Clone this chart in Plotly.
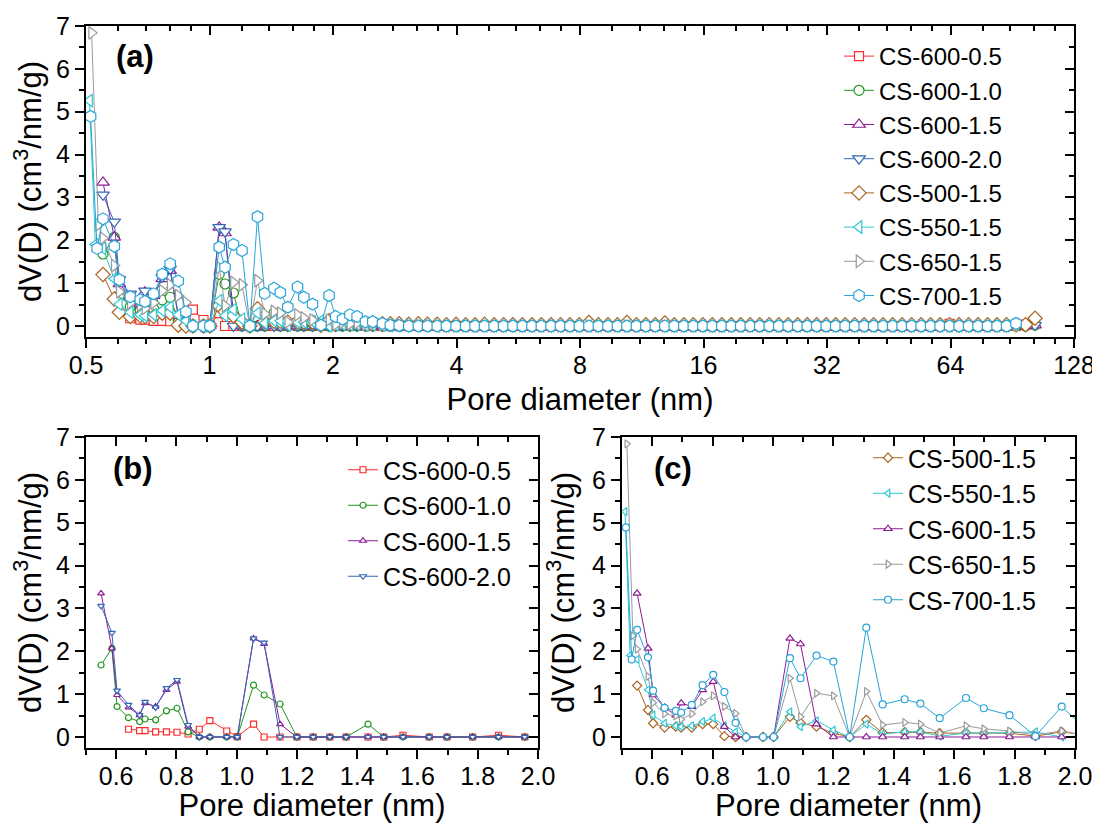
import plotly.graph_objects as go

# pore width grid (nm) shared by all samples from 0.55 nm on
GRID = [0.55, 0.586, 0.603, 0.641, 0.678, 0.696, 0.731, 0.767, 0.802, 0.839,
        0.876, 0.911, 0.967, 1.002, 1.056, 1.091, 1.144, 1.2, 1.254, 1.309,
        1.363, 1.436, 1.488, 1.552, 1.639, 1.698, 1.783, 1.869, 1.956, 2.03,
        2.11, 2.2, 2.29, 2.4, 2.5, 2.64, 2.76]
TAIL = [2.90, 3.06, 3.23, 3.40, 3.59, 3.78, 3.99, 4.21, 4.44, 4.68,
        4.94, 5.21, 5.49, 5.79, 6.11, 6.44, 6.80, 7.17, 7.56, 7.97,
        8.41, 8.87, 9.36, 9.87, 10.41, 10.98, 11.58, 12.21, 12.88, 13.58,
        14.33, 15.11, 15.94, 16.81, 17.73, 18.70, 19.72, 20.80, 21.94, 23.14,
        24.41, 25.74, 27.15, 28.64, 30.20, 31.86, 33.60, 35.44, 37.38, 39.42,
        41.58, 43.85, 46.25, 48.78, 51.45, 54.27, 57.24, 60.37, 63.67, 67.16,
        70.83, 74.71, 78.80, 83.11, 87.66, 92.45, 97.51, 102.85]

# first points below 0.55 nm differ per sample
HEAD_550 = [0.51, 0.527]
HEAD_650 = [0.516, 0.536]
HEAD_700 = [0.513, 0.532]

# dV(D) values, cm3/nm/g
V_600_05 = [0.18, 0.15, 0.15, 0.12, 0.12, 0.11, 0.07, 0.18, 0.38, 0.14,
            0.01, 0.30, 0, 0, 0, 0, 0, 0, 0, 0,
            0.04, 0, 0, 0, 0.04, 0, 0, 0, 0, 0, 0, 0, 0, 0,
            0, 0, 0, 0, 0, 0, 0, 0, 0, 0, 0, 0, 0, 0, 0, 0,
            0, 0, 0, 0, 0, 0, 0, 0, 0, 0, 0, 0, 0, 0, 0, 0,
            0, 0, 0, 0, 0, 0, 0, 0, 0, 0, 0, 0, 0, 0, 0, 0,
            0, 0, 0, 0, 0, 0, 0, 0, 0, 0, 0.05, 0, 0, 0, 0, 0,
            0, 0, 0.03]
V_600_10 = [1.68, 2.07, 0.71, 0.45, 0.36, 0.42, 0.40, 0.61, 0.67, 0.12,
            0, 0, 0, 0, 1.21, 0.98, 0.77, 0, 0, 0,
            0, 0.30, 0, 0, 0, 0, 0, 0, 0, 0, 0, 0, 0, 0, 0, 0, 0,
            0, 0, 0, 0, 0, 0, 0, 0, 0, 0, 0, 0, 0, 0, 0, 0,
            0, 0, 0, 0, 0, 0, 0, 0, 0, 0, 0, 0, 0, 0, 0, 0,
            0, 0, 0, 0, 0, 0, 0, 0, 0, 0, 0, 0, 0, 0, 0, 0,
            0, 0, 0, 0, 0, 0, 0, 0, 0, 0, 0, 0, 0, 0, 0, 0,
            0, 0, 0, 0.02]
V_600_15 = [3.35, 2.07, 0.98, 0.69, 0.51, 0.79, 0.71, 1.10, 1.29, 0.24,
            0, 0, 0, 0, 2.30, 2.17, 0.30, 0, 0, 0,
            0, 0, 0, 0, 0, 0, 0, 0, 0, 0, 0, 0, 0, 0, 0, 0, 0,
            0, 0, 0, 0, 0, 0, 0, 0, 0, 0, 0, 0, 0, 0, 0, 0,
            0, 0, 0, 0, 0, 0, 0, 0, 0, 0, 0, 0, 0, 0, 0, 0,
            0, 0, 0, 0, 0, 0, 0, 0, 0, 0, 0, 0, 0, 0, 0, 0,
            0, 0, 0, 0, 0, 0, 0, 0, 0, 0, 0, 0, 0, 0, 0, 0,
            0, 0, 0, 0.02]
V_600_20 = [3.06, 2.43, 1.08, 0.75, 0.51, 0.82, 0.69, 1.14, 1.33, 0.28,
            0, 0, 0, 0, 2.30, 2.20, 0, 0, 0, 0,
            0, 0, 0, 0, 0, 0, 0, 0, 0, 0, 0, 0, 0, 0, 0, 0, 0,
            0, 0, 0, 0, 0, 0, 0, 0, 0, 0, 0, 0, 0, 0, 0, 0,
            0, 0, 0, 0, 0, 0, 0, 0, 0, 0, 0, 0, 0, 0, 0, 0,
            0, 0, 0, 0, 0, 0, 0, 0, 0, 0, 0, 0, 0, 0, 0, 0,
            0, 0, 0, 0, 0, 0, 0, 0, 0, 0, 0, 0, 0, 0, 0, 0,
            0, 0, 0, 0.02]
V_500_15 = [1.20, 0.63, 0.32, 0.22, 0.24, 0.22, 0.22, 0.30, 0.30, 0.02,
            0, 0, 0, 0, 0.47, 0.33, 0.24, 0.09, 0, 0.40,
            0.10, 0.11, 0.11, 0.09, 0.10, 0.09, 0.09, 0.02, 0.12, 0.05,
            0.08, 0.06, 0.08, 0.05, 0.06, 0.05, 0.05,
            0.05, 0.04, 0.05, 0.04, 0.04, 0.03, 0.04, 0.03, 0.03, 0.04,
            0.03, 0.03, 0.03, 0.03, 0.03, 0.03, 0.03, 0.03, 0.03, 0.03,
            0.08, 0.03, 0.03, 0.03, 0.08, 0.03, 0.03, 0.03, 0.07, 0.03,
            0.03, 0.03, 0.03, 0.03, 0.03, 0.03, 0.03, 0.03, 0.03, 0.03,
            0.03, 0.03, 0.03, 0.03, 0.03, 0.03, 0.03, 0.03, 0.03, 0.03,
            0.03, 0.03, 0.03, 0.03, 0.03, 0.03, 0.03, 0.03, 0.03, 0.03,
            0.03, 0.03, 0.03, 0.03, 0.03, 0.03, 0.03, 0.18]
V_550_15 = [5.26, 1.90,
            1.81, 1.10, 0.51, 0.32, 0.26, 0.24, 0.26, 0.36, 0.44, 0.26,
            0.12, 0, 0, 0, 0.59, 0.24, 0.38, 0.16, 0, 0.30,
            0.07, 0.12, 0.12, 0.02, 0.09, 0.09, 0.10, 0.12, 0, 0.03,
            0.04, 0.03, 0.04, 0.02, 0.03, 0.02, 0.01,
            0.01, 0.01, 0.01, 0.01, 0, 0, 0, 0, 0, 0,
            0, 0, 0, 0, 0, 0, 0, 0, 0, 0, 0, 0, 0, 0, 0, 0,
            0, 0, 0, 0, 0, 0, 0, 0, 0, 0, 0, 0, 0, 0, 0, 0,
            0, 0, 0, 0, 0, 0, 0, 0, 0, 0, 0, 0, 0, 0, 0, 0,
            0, 0, 0, 0, 0, 0, 0, 0.04]
V_650_15 = [6.84, 2.36,
            2.05, 1.41, 0.80, 0.54, 0.49, 0.41, 0.54, 0.82, 0.96, 0.71,
            0.55, 0, 0, 0, 1.37, 0.47, 1.02, 0.96, 0, 1.06,
            0.28, 0.34, 0.30, 0.09, 0.26, 0.19, 0.14, 0.05, 0.14, 0.04,
            0.08, 0.05, 0.07, 0.04, 0.05, 0.03, 0.02,
            0.02, 0.02, 0.02, 0.02, 0.02, 0, 0, 0, 0, 0,
            0, 0, 0, 0, 0, 0, 0, 0, 0, 0, 0, 0, 0, 0, 0, 0,
            0, 0, 0, 0, 0, 0, 0, 0, 0, 0, 0, 0, 0, 0, 0, 0,
            0, 0, 0, 0, 0, 0, 0, 0, 0, 0, 0, 0, 0, 0, 0, 0,
            0, 0, 0, 0, 0, 0, 0, 0.03]
V_700_15 = [4.89, 1.81,
            2.50, 1.86, 1.08, 0.68, 0.61, 0.57, 0.75, 1.21, 1.45, 1.05,
            0.33, 0, 0, 0, 1.84, 1.37, 1.90, 1.76, 0, 2.55,
            0.76, 0.88, 0.78, 0.44, 0.91, 0.67, 0.51, 0.02, 0.71, 0.22,
            0.16, 0.26, 0.22, 0.10, 0.10, 0.06, 0.02,
            0.01, 0, 0, 0, 0, 0, 0, 0, 0, 0,
            0, 0, 0, 0, 0, 0, 0, 0, 0, 0, 0, 0, 0, 0, 0, 0,
            0, 0, 0, 0, 0, 0, 0, 0, 0, 0, 0, 0, 0, 0, 0, 0,
            0, 0, 0, 0, 0, 0, 0, 0, 0, 0, 0, 0, 0, 0, 0, 0,
            0, 0, 0, 0, 0, 0, 0, 0.06]

X_600_05 = GRID[3:] + TAIL
X_STD = GRID + TAIL

SERIES = {
    'CS-600-0.5': (X_600_05, V_600_05, '#FF2A2A', 'square'),
    'CS-600-1.0': (X_STD, V_600_10, '#1E961E', 'circle'),
    'CS-600-1.5': (X_STD, V_600_15, '#8E1A96', 'triangle-up'),
    'CS-600-2.0': (X_STD, V_600_20, '#3467B5', 'triangle-down'),
    'CS-500-1.5': (X_STD, V_500_15, '#A9641F', 'diamond'),
    'CS-550-1.5': (HEAD_550 + X_STD, V_550_15, '#2EC8D6', 'triangle-left'),
    'CS-650-1.5': (HEAD_650 + X_STD, V_650_15, '#9A9A9A', 'triangle-right'),
    'CS-700-1.5': (HEAD_700 + X_STD, V_700_15, '#27A4D8', 'hexagon'),
}
PANEL_B = ['CS-600-0.5', 'CS-600-1.0', 'CS-600-1.5', 'CS-600-2.0']
PANEL_C = ['CS-500-1.5', 'CS-550-1.5', 'CS-600-1.5', 'CS-650-1.5', 'CS-700-1.5']

BIG_SIZE = {'square': 9, 'circle': 10, 'triangle-up': 11, 'triangle-down': 11,
            'diamond': 11, 'triangle-left': 11, 'triangle-right': 11, 'hexagon': 12}

FONT = "Liberation Sans, Arial, sans-serif"
# the page body has an 8 px margin, so the figure is a bit smaller than the window
OFF = 8
W, H = 1100 - OFF, 823 - OFF

fig = go.Figure()


def add(name, xa, ya, legend, size, symbol=None):
    x, y, c, sym = SERIES[name]
    fig.add_trace(go.Scatter(
        x=x, y=y, name=name, mode='lines+markers',
        xaxis=xa, yaxis=ya, legend=legend,
        line=dict(color=c, width=1),
        marker=dict(symbol=symbol or sym, size=size, color='white',
                    line=dict(color=c, width=1.2)),
        cliponaxis=True,
    ))


for n in SERIES:
    add(n, 'x', 'y', 'legend', BIG_SIZE[SERIES[n][3]])
for n in PANEL_B:
    add(n, 'x2', 'y2', 'legend2', 6)
for n in PANEL_C:
    sym = 'circle' if n == 'CS-700-1.5' else None
    add(n, 'x3', 'y3', 'legend3', 7, sym)


def px_x(p):
    return (p - OFF) / W


def px_y(p):
    return 1 - (p - OFF) / H


dom_a_x = [px_x(86), px_x(1074)]
dom_a_y = [px_y(337), px_y(26)]
dom_b_x = [px_x(86), px_x(538)]
dom_c_x = [px_x(622), px_x(1075)]
dom_bc_y = [px_y(748), px_y(437)]

base = dict(showgrid=False, zeroline=False, showline=True, linecolor='black',
            linewidth=2, tickcolor='black', tickwidth=1.5, ticklen=9,
            automargin=False,
            tickfont=dict(size=25, color='black', family=FONT))

YR = [-0.257, 7]
log_major = [0.5, 1, 2, 4, 8, 16, 32, 64, 128]
log_minor = [0.6, 0.7, 0.8, 0.9, 1.2, 1.4, 1.6, 1.8, 2.4, 2.8, 3.2, 3.6,
             4.8, 5.6, 6.4, 7.2, 9.6, 11.2, 12.8, 14.4, 19.2, 22.4, 25.6, 28.8,
             38.4, 44.8, 51.2, 57.6, 76.8, 89.6, 102.4, 115.2]
XLOG_RANGE = [-0.30103, 2.10721]


def ylin(domain, anchor, side='left', inside=False, **kw):
    d = dict(base, domain=domain, anchor=anchor, range=YR, dtick=1, tick0=0,
             side=side, ticks='inside' if inside else 'outside',
             minor=dict(dtick=0.5, ticklen=5, ticks='inside' if inside else 'outside',
                        tickcolor='black', tickwidth=1.5, showgrid=False))
    d.update(kw)
    return d


def xlin(domain, anchor, side='bottom', inside=False, **kw):
    d = dict(base, domain=domain, anchor=anchor, range=[0.5, 2.0], dtick=0.2,
             tick0=0.4, tickformat='.1f', side=side, ticklabelstandoff=-4,
             ticks='inside' if inside else 'outside',
             minor=dict(dtick=0.1, tick0=0.5, ticklen=5,
                        ticks='inside' if inside else 'outside',
                        tickcolor='black', tickwidth=1.5, showgrid=False))
    d.update(kw)
    return d


def xlog(side='bottom', inside=False, **kw):
    d = dict(base, domain=dom_a_x, anchor='y', type='log', range=XLOG_RANGE,
             tickvals=log_major, ticktext=[str(v) for v in log_major],
             side=side, ticklabelstandoff=-4,
             ticks='inside' if inside else 'outside',
             minor=dict(tickvals=log_minor, ticklen=5,
                        ticks='inside' if inside else 'outside',
                        tickcolor='black', tickwidth=1.5, showgrid=False))
    d.update(kw)
    return d


ytitle = dict(text='dV(D) (cm<sup>3</sup>/nm/g)', font=dict(size=31, family=FONT, color='black'),
              standoff=8)
xtitle = dict(text='Pore diameter (nm)', font=dict(size=31, family=FONT, color='black'),
              standoff=10)

fig.update_layout(
    xaxis=xlog(title=xtitle),
    yaxis=ylin(dom_a_y, 'x', title=ytitle),
    xaxis4=xlog(side='top', inside=True, overlaying='x', showticklabels=False),
    yaxis4=ylin(dom_a_y, 'x', side='right', inside=True, overlaying='y',
                showticklabels=False),
    xaxis2=xlin(dom_b_x, 'y2', title=xtitle),
    yaxis2=ylin(dom_bc_y, 'x2', title=ytitle),
    xaxis5=xlin(dom_b_x, 'y2', side='top', inside=True, overlaying='x2',
                showticklabels=False),
    yaxis5=ylin(dom_bc_y, 'x2', side='right', inside=True, overlaying='y2',
                showticklabels=False),
    xaxis3=xlin(dom_c_x, 'y3', title=xtitle),
    yaxis3=ylin(dom_bc_y, 'x3', title=ytitle),
    xaxis6=xlin(dom_c_x, 'y3', side='top', inside=True, overlaying='x3',
                showticklabels=False),
    yaxis6=ylin(dom_bc_y, 'x3', side='right', inside=True, overlaying='y3',
                showticklabels=False),
)

# empty traces so the mirrored tick axes are drawn
for xa, ya in [('x4', 'y4'), ('x5', 'y5'), ('x6', 'y6')]:
    fig.add_trace(go.Scatter(x=[], y=[], xaxis=xa, yaxis=ya, showlegend=False,
                             hoverinfo='skip'))

leg_font = dict(size=24, family=FONT, color='black')
fig.update_layout(
    legend=dict(x=px_x(839), y=px_y(34), xanchor='left', yanchor='top',
                font=leg_font, bgcolor='rgba(0,0,0,0)', tracegroupgap=0),
    legend2=dict(x=px_x(343), y=px_y(447), xanchor='left', yanchor='top',
                 font=dict(leg_font, size=25), bgcolor='rgba(0,0,0,0)'),
    legend3=dict(x=px_x(868), y=px_y(435), xanchor='left', yanchor='top',
                 font=dict(leg_font, size=25), bgcolor='rgba(0,0,0,0)'),
    width=W, height=H,
    margin=dict(l=0, r=0, t=0, b=0),
    paper_bgcolor='white', plot_bgcolor='white',
    font=dict(family=FONT, color='black'),
)

for label, xp, yp in [('(a)', 135, 57), ('(b)', 133, 469), ('(c)', 673, 469)]:
    fig.add_annotation(text='<b>%s</b>' % label, x=px_x(xp), y=px_y(yp),
                       xref='paper', yref='paper', showarrow=False,
                       xanchor='center', yanchor='middle',
                       font=dict(size=31, family=FONT, color='black'))

fig.write_html("out.html")
